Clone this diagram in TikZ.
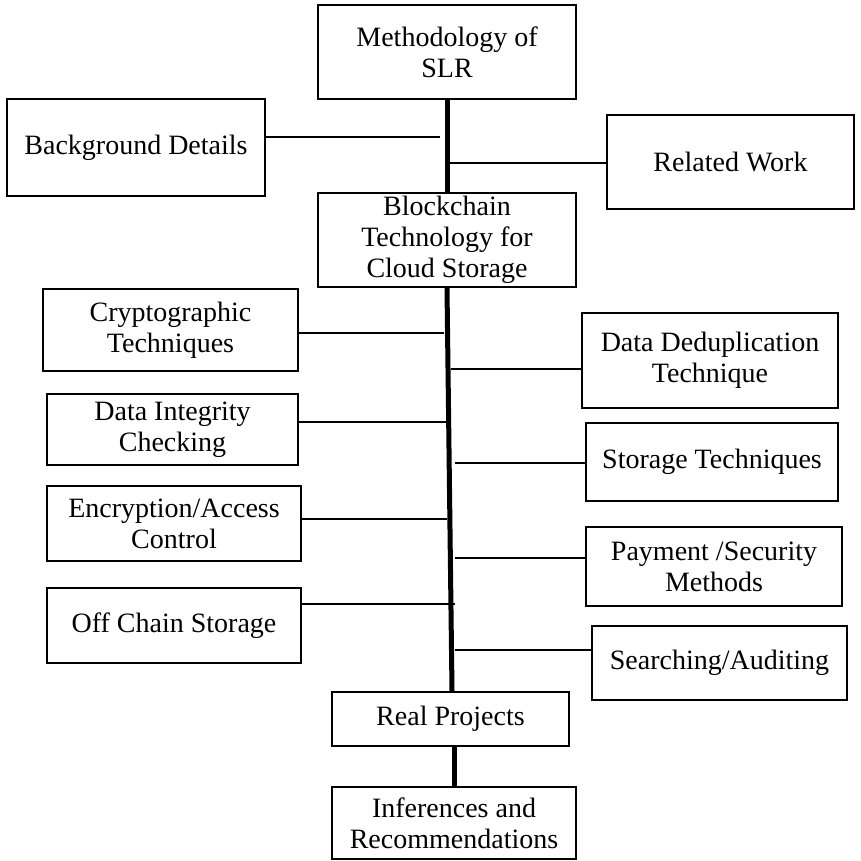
\documentclass[tikz,border=0pt]{standalone}
\usepackage{fontspec}
\setmainfont{Liberation Serif}
\begin{document}
\begin{tikzpicture}[x=1pt,y=-1pt,
  box/.style={draw=black,line width=2.2pt,inner sep=0pt,align=center,
    font=\fontsize{28}{31}\selectfont},
  link/.style={draw=black,line width=2pt},
  spine/.style={draw=black,line width=5pt}]
\useasboundingbox (0,0) rectangle (860,861);

% central chain
\node[box,minimum width=258,minimum height=94] (meth) at (447,52) {Methodology of\\SLR};
\node[box,minimum width=258,minimum height=94] (bc) at (447,240) {Blockchain\\Technology for\\Cloud Storage};
\node[box,minimum width=237,minimum height=54] (real) at (450.5,719) {Real Projects};
\node[box,minimum width=244,minimum height=72] (inf) at (454,823) {Inferences and\\Recommendations};

% side boxes, upper part
\node[box,minimum width=258,minimum height=97] (bg) at (136,147.5) {Background Details};
\node[box,minimum width=247,minimum height=94] (rel) at (730.5,162) {Related Work};

% side boxes, lower part (left)
\node[box,minimum width=255,minimum height=82] (crypt) at (170.5,330) {Cryptographic\\Techniques};
\node[box,minimum width=251,minimum height=71] (integ) at (172.5,429.5) {Data Integrity\\Checking};
\node[box,minimum width=254,minimum height=75] (enc) at (174,523.5) {Encryption/Access\\Control};
\node[box,minimum width=254,minimum height=75] (off) at (174,625.5) {Off Chain Storage};

% side boxes, lower part (right)
\node[box,minimum width=256,minimum height=95] (dedup) at (710,360.5) {Data Deduplication\\Technique};
\node[box,minimum width=252,minimum height=78] (stor) at (712,462) {Storage Techniques};
\node[box,minimum width=256,minimum height=79] (pay) at (714,566.5) {Payment /Security\\Methods};
\node[box,minimum width=255,minimum height=74] (search) at (719.5,663) {Searching/Auditing};

% spine
\draw[spine] (meth.south) -- (bc.north);
\draw[spine] (bc.south) -- ([xshift=1.5pt]real.north);
\draw[spine] ([xshift=3.5pt]real.south) -- (inf.north);

% junctions on the spine
\coordinate (j1) at (440,137);
\coordinate (j2) at (447,163);
\coordinate (j3) at (444,333);
\coordinate (j4) at (451,369);
\coordinate (j5) at (446,422);
\coordinate (j6) at (455,463);
\coordinate (j7) at (447,519);
\coordinate (j8) at (455,558);
\coordinate (j9) at (455,604);
\coordinate (j10) at (455,650);

% branches
\draw[link] (j1 -| bg.east) -- (j1);
\draw[link] (j2) -- (j2 -| rel.west);
\draw[link] (j3 -| crypt.east) -- (j3);
\draw[link] (j4) -- (j4 -| dedup.west);
\draw[link] (j5 -| integ.east) -- (j5);
\draw[link] (j6) -- (j6 -| stor.west);
\draw[link] (j7 -| enc.east) -- (j7);
\draw[link] (j8) -- (j8 -| pay.west);
\draw[link] (j9 -| off.east) -- (j9);
\draw[link] (j10) -- (j10 -| search.west);
\end{tikzpicture}
\end{document}
